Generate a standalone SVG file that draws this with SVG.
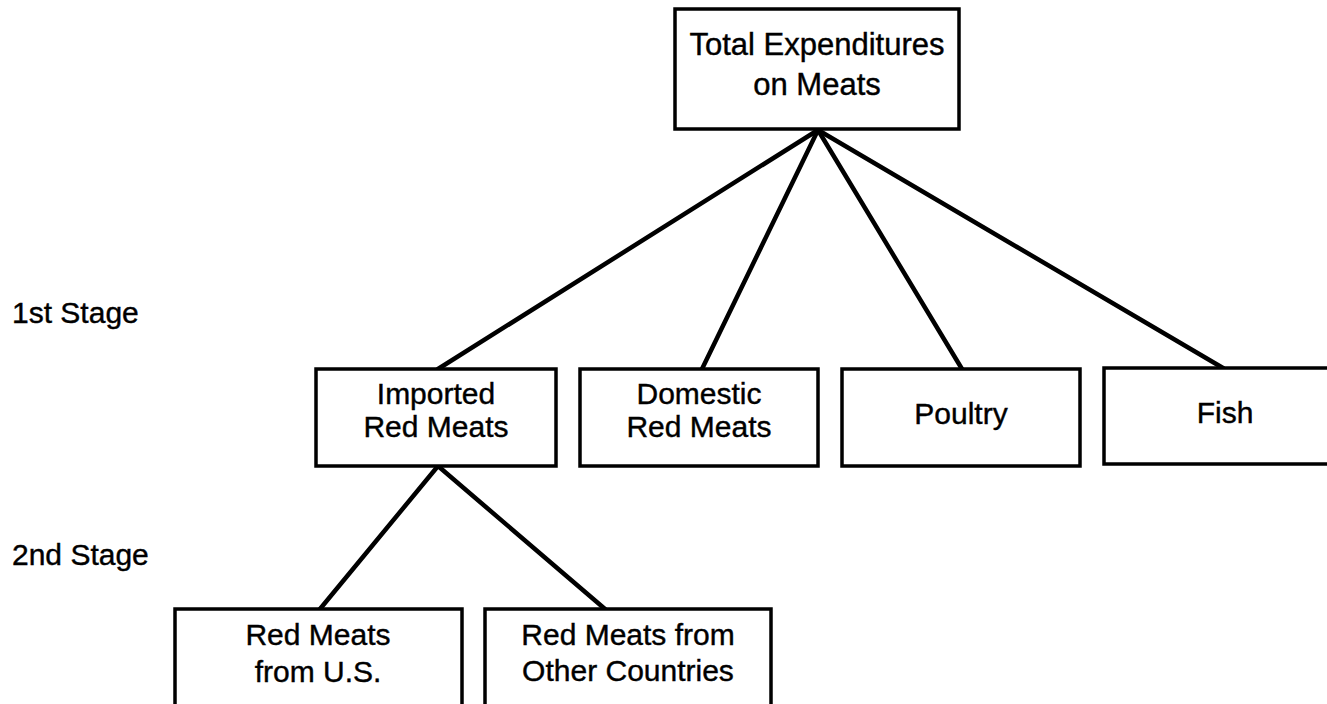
<svg xmlns="http://www.w3.org/2000/svg" width="1327" height="704" viewBox="0 0 1327 704">
<style>
.box{fill:#fff;stroke:#000;stroke-width:3.5}
.t{font-family:"Liberation Sans",Arial,sans-serif;font-size:30px;fill:#000;stroke:#000;stroke-width:0.4;text-anchor:middle}
.big{font-size:31px}
.s{font-family:"Liberation Sans",Arial,sans-serif;font-size:30px;fill:#000;stroke:#000;stroke-width:0.4}
.c{stroke:#000;stroke-width:4.5;fill:none;stroke-linecap:round}
</style>
<rect width="1327" height="704" fill="#fff"/>
<g id="connectors">
<line class="c" x1="818" y1="130" x2="438" y2="369"/>
<line class="c" x1="818" y1="130" x2="702" y2="369"/>
<line class="c" x1="818" y1="130" x2="962" y2="369"/>
<line class="c" x1="818" y1="130" x2="1223" y2="368"/>
<line class="c" x1="438" y1="466" x2="320" y2="609"/>
<line class="c" x1="438" y1="466" x2="605" y2="609"/>
</g>
<g id="total">
<rect class="box" x="675" y="9" width="284" height="120"/>
<text class="t big" x="817" y="55">Total Expenditures</text>
<text class="t big" x="817" y="95">on Meats</text>
</g>
<g id="imported">
<rect class="box" x="316" y="369" width="240" height="97"/>
<text class="t" x="436" y="404">Imported</text>
<text class="t" x="436" y="437">Red Meats</text>
</g>
<g id="domestic">
<rect class="box" x="580" y="369" width="238" height="97"/>
<text class="t" x="699" y="404">Domestic</text>
<text class="t" x="699" y="437">Red Meats</text>
</g>
<g id="poultry">
<rect class="box" x="842" y="369" width="238" height="97"/>
<text class="t" x="961" y="424">Poultry</text>
</g>
<g id="fish">
<rect class="box" x="1104" y="368" width="238" height="96"/>
<text class="t" x="1225" y="423">Fish</text>
</g>
<g id="us">
<rect class="box" x="175" y="609" width="287" height="120"/>
<text class="t" x="318" y="645">Red Meats</text>
<text class="t" x="318" y="682">from U.S.</text>
</g>
<g id="other">
<rect class="box" x="485" y="609" width="286" height="120"/>
<text class="t" x="628" y="645">Red Meats from</text>
<text class="t" x="628" y="681">Other Countries</text>
</g>
<g id="stages">
<text class="s" x="12" y="323">1st Stage</text>
<text class="s" x="12" y="565">2nd Stage</text>
</g>
</svg>
